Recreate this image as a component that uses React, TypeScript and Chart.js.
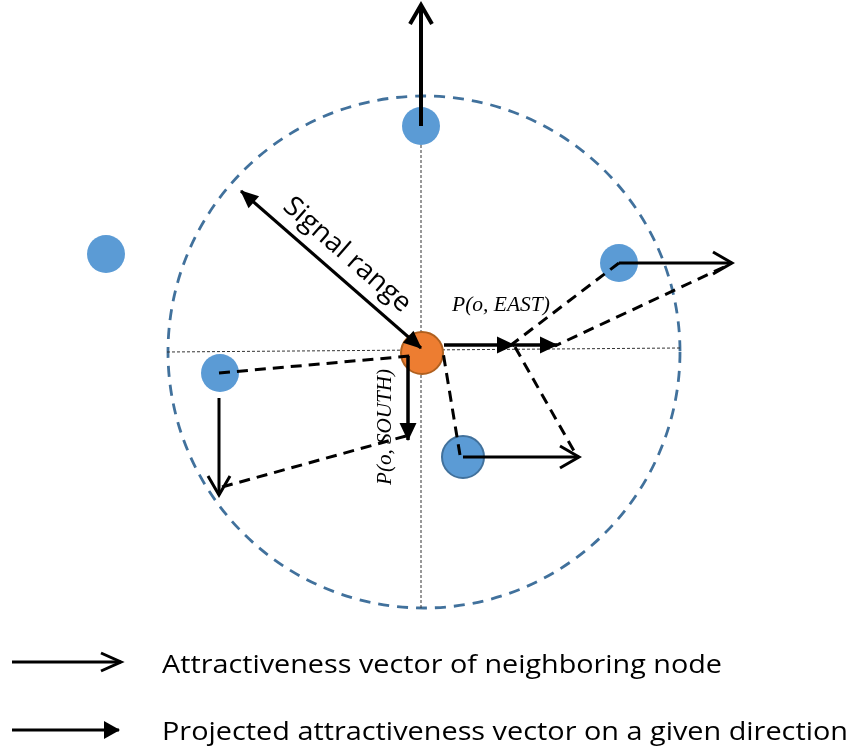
import React, { useEffect, useRef } from "react";
import { Chart, registerables } from "chart.js";

Chart.register(...registerables);

const W = 853;
const H = 751;

// ---- data (diagram coordinates, y grows downward) ----
const neighbourX = [421, 106, 619, 220, 463];
const neighbourY = [126, 254, 263, 373, 457];
const originNode = [422, 353];
const signalCircle = [424, 352, 256]; // centre x, centre y, range

const axisHX = [167, 680];
const axisHY = [352, 348];
const axisVX = [421, 421];
const axisVY = [100, 608];

const attractStartX = [421, 619, 219, 463];
const attractStartY = [126, 263, 398, 457];
const attractEndX = [421, 732, 219, 579];
const attractEndY = [5, 263, 495, 457];

const projStartX = [444, 513, 408];
const projStartY = [345, 345, 356];
const projEndX = [514, 557, 408];
const projEndY = [345, 345, 440];

const dashStartX = [619, 724, 515, 460, 219, 222];
const dashStartY = [263, 267, 347, 455, 373, 487];
const dashEndX = [511, 555, 574, 443, 410, 406];
const dashEndY = [345, 346, 451, 352, 356, 436];

const rangeArrowX = [241, 421];
const rangeArrowY = [191, 348];

const legendLabels = [
  "Attractiveness vector of neighboring node",
  "Projected attractiveness vector on a given direction",
];
const legendArrowX = [12, 121];
const legendY = [662, 730];
const legendBaseline = [673, 740];
const legendTextX = [162, 162];

const labelTexts = ["Signal range", "P(o, EAST)", "P(o, SOUTH)"];
const labelX = [347, 501, 391];
const labelY = [255, 311, 427];

// ---- styles ----
const NODE_RADII = [19, 19, 19, 19, 21];
const NODE_BORDER = [0, 0, 0, 0, 2];
const BLUE = "#5B9BD5";
const BLUE_EDGE = "#41719C";
const ORANGE = "#ED7D31";
const ORANGE_EDGE = "#B0601F";

function seg(xs: number[], ys: number[], extra: any) {
  return {
    type: "scatter",
    data: xs.map((v, i) => ({ x: v, y: ys[i] })),
    showLine: true,
    pointRadius: 0,
    pointHoverRadius: 0,
    borderColor: "#000",
    backgroundColor: "#000",
    fill: false,
    clip: false,
    order: 0,
    ...extra,
  };
}

function drawHead(
  ctx: CanvasRenderingContext2D,
  x0: number,
  y0: number,
  x1: number,
  y1: number,
  kind: string,
  len: number,
  half: number,
  lw: number
) {
  const a = Math.atan2(y1 - y0, x1 - x0);
  ctx.save();
  ctx.translate(x1, y1);
  ctx.rotate(a);
  ctx.setLineDash([]);
  ctx.strokeStyle = "#000";
  ctx.fillStyle = "#000";
  if (kind === "open") {
    ctx.lineWidth = lw;
    ctx.lineJoin = "miter";
    ctx.beginPath();
    ctx.moveTo(-len, -half);
    ctx.lineTo(0, 0);
    ctx.lineTo(-len, half);
    ctx.stroke();
  } else {
    ctx.beginPath();
    ctx.moveTo(1, 0);
    ctx.lineTo(-len, -half);
    ctx.lineTo(-len, half);
    ctx.closePath();
    ctx.fill();
  }
  ctx.restore();
}

function fitText(
  ctx: CanvasRenderingContext2D,
  text: string,
  x: number,
  y: number,
  width: number,
  align: "left" | "center"
) {
  const m = ctx.measureText(text).width;
  const s = width / m;
  ctx.save();
  ctx.translate(x, y);
  ctx.scale(s, 1);
  ctx.textAlign = align;
  ctx.fillText(text, 0, 0);
  ctx.restore();
}

const diagramPlugin = {
  id: "diagram",
  beforeDatasetsDraw(chart: any) {
    const { ctx } = chart;
    const sx = chart.scales.x;
    const sy = chart.scales.y;
    const cx = sx.getPixelForValue(signalCircle[0]);
    const cy = sy.getPixelForValue(signalCircle[1]);
    const rx = Math.abs(sx.getPixelForValue(signalCircle[0] + signalCircle[2]) - cx);
    const ry = Math.abs(sy.getPixelForValue(signalCircle[1] + signalCircle[2]) - cy);
    ctx.save();
    ctx.setLineDash([11, 8]);
    ctx.lineWidth = 2.8;
    ctx.strokeStyle = BLUE_EDGE;
    ctx.beginPath();
    ctx.ellipse(cx, cy, rx, ry, 0, 0, Math.PI * 2);
    ctx.stroke();
    ctx.restore();
  },
  afterDatasetsDraw(chart: any) {
    const { ctx } = chart;
    const sx = chart.scales.x;
    const sy = chart.scales.y;
    chart.data.datasets.forEach((ds: any, i: number) => {
      if (!ds.arrowHead) return;
      const pts = chart.getDatasetMeta(i).data;
      if (pts.length < 2) return;
      const p0 = pts[pts.length - 2];
      const p1 = pts[pts.length - 1];
      const [len, half] = ds.headSize;
      drawHead(ctx, p0.x, p0.y, p1.x, p1.y, ds.arrowHead === "both" ? "filled" : ds.arrowHead, len, half, ds.borderWidth);
      if (ds.arrowHead === "both") {
        drawHead(ctx, p1.x, p1.y, pts[0].x, pts[0].y, "filled", len, half, ds.borderWidth);
      }
    });

    ctx.save();
    ctx.fillStyle = "#000";

    // Signal range label along the arrow
    const ax0 = sx.getPixelForValue(rangeArrowX[0]);
    const ay0 = sy.getPixelForValue(rangeArrowY[0]);
    const ax1 = sx.getPixelForValue(rangeArrowX[1]);
    const ay1 = sy.getPixelForValue(rangeArrowY[1]);
    const ang = Math.atan2(ay1 - ay0, ax1 - ax0);
    ctx.save();
    ctx.textBaseline = "middle";
    ctx.translate(sx.getPixelForValue(labelX[0]), sy.getPixelForValue(labelY[0]));
    ctx.rotate(ang);
    ctx.font = "27px 'Open Sans'";
    fitText(ctx, labelTexts[0], 0, 0, 160, "center");
    ctx.restore();

    ctx.textBaseline = "alphabetic";
    ctx.font = "italic 21px 'Liberation Serif'";
    fitText(ctx, labelTexts[1], sx.getPixelForValue(labelX[1]), sy.getPixelForValue(labelY[1]), 98, "center");

    ctx.save();
    ctx.translate(sx.getPixelForValue(labelX[2]), sy.getPixelForValue(labelY[2]));
    ctx.rotate(-Math.PI / 2);
    fitText(ctx, labelTexts[2], 0, 0, 116, "center");
    ctx.restore();

    ctx.font = "25px 'Open Sans'";
    fitText(ctx, legendLabels[0], sx.getPixelForValue(legendTextX[0]), sy.getPixelForValue(legendBaseline[0]), 560, "left");
    fitText(ctx, legendLabels[1], sx.getPixelForValue(legendTextX[1]), sy.getPixelForValue(legendBaseline[1]), 686, "left");
    ctx.restore();
  },
};

export default function App() {
  const ref = useRef<HTMLCanvasElement | null>(null);

  useEffect(() => {
    if (!ref.current) return;
    const datasets: any[] = [];

    // thin dotted reference axes
    datasets.push(seg(axisHX, axisHY, { borderWidth: 1, borderDash: [3, 2], borderColor: "#333", order: 10 }));
    datasets.push(seg(axisVX, axisVY, { borderWidth: 1, borderDash: [3, 2], borderColor: "#333", order: 10 }));

    // nodes
    datasets.push({
      type: "scatter",
      data: neighbourX.map((v, i) => ({ x: v, y: neighbourY[i] })),
      pointRadius: NODE_RADII,
      pointHoverRadius: NODE_RADII,
      pointBackgroundColor: BLUE,
      pointBorderColor: BLUE_EDGE,
      pointBorderWidth: NODE_BORDER,
      showLine: false,
      clip: false,
      order: 5,
    });
    datasets.push({
      type: "scatter",
      data: [{ x: originNode[0], y: originNode[1] }],
      pointRadius: 21,
      pointHoverRadius: 21,
      pointBackgroundColor: ORANGE,
      pointBorderColor: ORANGE_EDGE,
      pointBorderWidth: 2,
      showLine: false,
      clip: false,
      order: 5,
    });

    // dashed projection construction lines
    dashStartX.forEach((_, i) => {
      datasets.push(
        seg([dashStartX[i], dashEndX[i]], [dashStartY[i], dashEndY[i]], {
          borderWidth: 3,
          borderDash: [11, 7],
          order: 1,
        })
      );
    });

    // attractiveness vectors (open heads)
    attractStartX.forEach((_, i) => {
      datasets.push(
        seg([attractStartX[i], attractEndX[i]], [attractStartY[i], attractEndY[i]], {
          borderWidth: i === 0 ? 4 : 3,
          arrowHead: "open",
          headSize: [19, 11],
        })
      );
    });

    // projected vectors (filled heads)
    projStartX.forEach((_, i) => {
      datasets.push(
        seg([projStartX[i], projEndX[i]], [projStartY[i], projEndY[i]], {
          borderWidth: 3.5,
          arrowHead: "filled",
          headSize: [17, 8.5],
        })
      );
    });

    // signal range double arrow
    datasets.push(
      seg(rangeArrowX, rangeArrowY, {
        borderWidth: 3,
        arrowHead: "both",
        headSize: [17, 8],
      })
    );

    // legend arrows
    datasets.push(
      seg(legendArrowX, [legendY[0], legendY[0]], {
        borderWidth: 3,
        arrowHead: "open",
        headSize: [20, 9],
      })
    );
    datasets.push(
      seg([legendArrowX[0], legendArrowX[1] - 2], [legendY[1], legendY[1]], {
        borderWidth: 3,
        arrowHead: "filled",
        headSize: [15, 9],
      })
    );

    const chart = new Chart(ref.current, {
      type: "scatter",
      data: { datasets },
      options: {
        animation: false,
        responsive: false,
        events: [],
        layout: { padding: 0, autoPadding: false },
        plugins: { legend: { display: false }, tooltip: { enabled: false } },
        scales: {
          x: { type: "linear", min: 0, max: W, display: false },
          y: { type: "linear", min: 0, max: H, reverse: true, display: false },
        },
      },
      plugins: [diagramPlugin],
    } as any);
    return () => chart.destroy();
  }, []);

  return (
    <div style={{ position: "fixed", left: 0, top: 0, width: W, height: H, background: "#fff" }}>
      <canvas ref={ref} width={W} height={H} style={{ display: "block", width: W, height: H }} />
    </div>
  );
}
